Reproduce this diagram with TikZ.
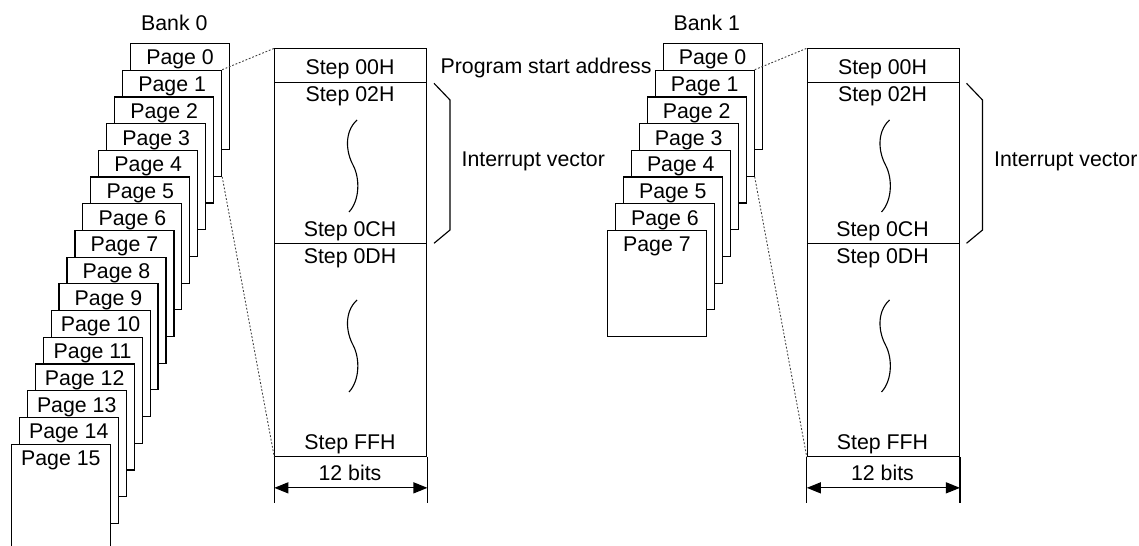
\documentclass[tikz,border=0pt]{standalone}
\usepackage{fontspec}
\setmainfont{Liberation Sans}
\usetikzlibrary{arrows.meta}
\newcommand{\memmap}[1]{%
  \node[membox] (#1m) at (274.3,48.3) {};
  \draw ([yshift=-34.4bp]#1m.north west) -- ([yshift=-34.4bp]#1m.north east);
  \draw ([yshift=-195bp]#1m.north west) -- ([yshift=-195bp]#1m.north east);
  \draw (#1m.south west) -- ++(0,45.7);
  \draw (#1m.south east) -- ++(0,45.7);
  \coordinate (#1al) at ([yshift=-30.7bp]#1m.south west);
  \coordinate (#1ar) at ([yshift=-30.7bp]#1m.south east);
  \draw[dimarrow] (#1al) -- (#1ar);
  \node[anchor=base] (#1s00) at (350,75) {Step 00H};
  \node[anchor=base] (#1s02) at (350,101.7) {Step 02H};
  \node[anchor=base] (#1s0c) at (350,236.7) {Step 0CH};
  \node[anchor=base] (#1s0d) at (350,263.5) {Step 0DH};
  \node[anchor=base] (#1sff) at (350,449.5) {Step FFH};
  \node[anchor=base] (#1bits) at (350,480) {12 bits};
  \draw[wave] (357,120) .. controls (344,132) and (346,152) .. (353,165) .. controls (360,178) and (360,200) .. (349,212);
  \draw[wave] (357,300) .. controls (344,312) and (346,332) .. (353,345) .. controls (360,358) and (360,380) .. (349,392);
  \draw (434,83.3) -- (450,100) -- (450,230) -- (434,243.3);
  \node[anchor=base west] (#1iv) at (461,166.7) {Interrupt vector};
}
\begin{document}
\begin{tikzpicture}[x=1bp,y=-1bp, line width=1.15bp,
  every node/.style={font=\fontsize{21.4}{25}\selectfont, inner sep=0pt},
  pagebox/.style={draw, fill=white, minimum width=99bp, minimum height=106bp, anchor=north west, inner sep=0pt},
  membox/.style={draw, minimum width=152bp, minimum height=407.7bp, anchor=north west},
  guide/.style={line width=0.9bp, dash pattern=on 1.8bp off 1.8bp, black!75},
  wave/.style={line width=1.1bp},
  dimarrow/.style={{Triangle[length=14bp,width=11bp]}-{Triangle[length=14bp,width=11bp]}}]
\useasboundingbox (0,0) rectangle (1139,546);
% Bank 0
\node[anchor=base] (bank0) at (174.3,30.7) {Bank 0};
\foreach \k in {0,...,15} {
  \node[pagebox] (b0p\k) at ({130-7.95*\k},{43+26.7*\k}) {};
  \node[anchor=base] (b0t\k) at ([yshift=-22bp]b0p\k.north) {Page \k};
}
\memmap{a}
\node[anchor=base west] (psa) at (440,73.5) {Program start address};
\draw[guide] (b0p1.north east) -- (am.north west);
\draw[guide] (b0p1.south east) -- (am.south west);
% Bank 1
\begin{scope}[xshift=532.5bp]
\node[anchor=base] (bank1) at (174.3,30.7) {Bank 1};
\foreach \k in {0,...,7} {
  \node[pagebox] (b1p\k) at ({130-7.95*\k},{43+26.7*\k}) {};
  \node[anchor=base] (b1t\k) at ([yshift=-22bp]b1p\k.north) {Page \k};
}
\memmap{b}
\draw[guide] (b1p1.north east) -- (bm.north west);
\draw[guide] (b1p1.south east) -- (bm.south west);
\end{scope}
\end{tikzpicture}
\end{document}
